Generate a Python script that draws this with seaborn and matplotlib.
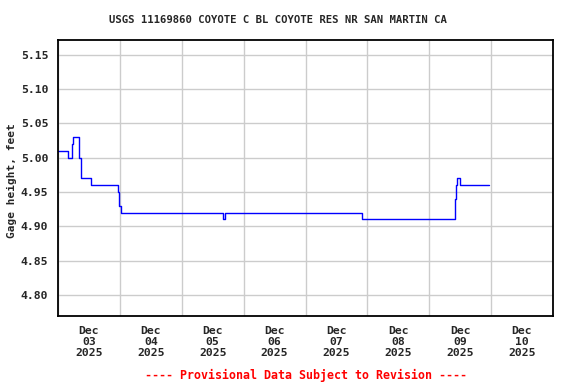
import pandas as pd
import matplotlib
matplotlib.use("Agg")
import matplotlib.pyplot as plt
import seaborn as sns

# gage height step changes (start of each level)
times = [
    "2025-12-03 00:00", "2025-12-03 04:00", "2025-12-03 05:15", "2025-12-03 05:45",
    "2025-12-03 08:15", "2025-12-03 08:45", "2025-12-03 12:45", "2025-12-03 23:15",
    "2025-12-03 23:30", "2025-12-04 00:30", "2025-12-05 16:00", "2025-12-05 16:45",
    "2025-12-07 22:00", "2025-12-09 10:00", "2025-12-09 10:15", "2025-12-09 10:45",
    "2025-12-09 12:00", "2025-12-09 23:00",
]
heights = [
    5.01, 5.00, 5.02, 5.03,
    5.00, 4.97, 4.96, 4.95,
    4.93, 4.92, 4.91, 4.92,
    4.91, 4.94, 4.96, 4.97,
    4.96, 4.96,
]
y_ticks = [4.80, 4.85, 4.90, 4.95, 5.00, 5.05, 5.10, 5.15]
day_labels = ["Dec\n03\n2025", "Dec\n04\n2025", "Dec\n05\n2025", "Dec\n06\n2025",
              "Dec\n07\n2025", "Dec\n08\n2025", "Dec\n09\n2025", "Dec\n10\n2025"]

title = "USGS 11169860 COYOTE C BL COYOTE RES NR SAN MARTIN CA"
footer = "---- Provisional Data Subject to Revision ----"

df = pd.DataFrame({"time": pd.to_datetime(times), "height": heights})

sns.set_style("white")
plt.rcParams["font.family"] = ["DejaVu Sans Mono"]
plt.rcParams["font.weight"] = "bold"

fig = plt.figure(figsize=(5.76, 3.84), dpi=100)
ax = fig.add_axes([58 / 576, 1 - 316 / 384, 495 / 576, 276 / 384])

sns.lineplot(data=df, x="time", y="height", ax=ax, color="#0000ff",
             linewidth=1.0, drawstyle="steps-post", estimator=None)

start = pd.Timestamp("2025-12-03")
end = pd.Timestamp("2025-12-11")
ax.set_xlim(start, end)
ax.set_ylim(4.7694, 5.1714)

# grid at midnight, labels at noon
midnights = pd.date_range(start, end, freq="D")
noons = pd.date_range("2025-12-03 12:00", periods=len(day_labels), freq="D")
ax.set_xticks(midnights)
ax.set_xticklabels([])
ax.set_xticks(noons, minor=True)
ax.set_xticklabels(day_labels, minor=True, fontsize=8.2, fontweight="bold",
                   linespacing=1.15)
ax.tick_params(axis="x", which="both", length=0, pad=7)

ax.set_yticks(y_ticks)
ax.set_yticklabels([f"{v:.2f}" for v in y_ticks], fontsize=8.2, fontweight="bold")
ax.tick_params(axis="y", length=0, pad=7)

ax.grid(True, which="major", color="#cccccc", linewidth=1.0)
ax.set_axisbelow(True)
for s in ax.spines.values():
    s.set_color("black")
    s.set_linewidth(1.3)

ax.set_xlabel("")
ax.set_ylabel("Gage height, feet", fontsize=8.0, fontweight="bold", va="center")
ax.yaxis.set_label_coords((12 - 58) / 495, 0.49)

fig.text(278 / 576, 1 - 20 / 384, title, ha="center", va="center",
         fontsize=7.7, fontweight="bold")
fig.text(306 / 576, 1 - 375 / 384, footer, ha="center", va="center",
         fontsize=8.4, fontweight="bold", color="#ff0000")

fig.savefig("out.png", dpi=100)
